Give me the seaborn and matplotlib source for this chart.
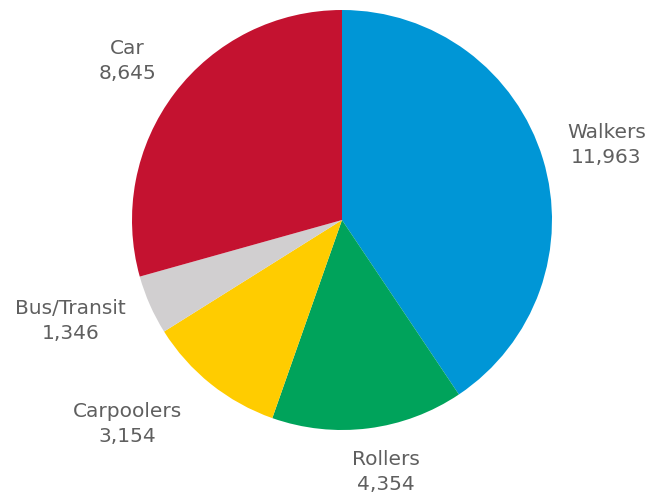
import matplotlib
matplotlib.use("Agg")
import matplotlib.pyplot as plt
import seaborn as sns
import numpy as np

# Commute mode counts
modes = ["Walkers", "Rollers", "Carpoolers", "Bus/Transit", "Car"]
counts = [11963, 4354, 3154, 1346, 8645]
colors = ["#0096D6", "#00A35B", "#FFCC00", "#D1CFD0", "#C41230"]

sns.set_theme(style="white")
plt.rcParams["font.family"] = ["DejaVu Sans"]

W, H = 654, 497
fig = plt.figure(figsize=(W / 100, H / 100), dpi=100)

# Pie occupies a square region centred at (342, 220) px with radius 210 px
cx, cy, r = 342, 220, 210
ax = fig.add_axes([(cx - r) / W, (H - cy - r) / H, 2 * r / W, 2 * r / H])

wedges, _ = ax.pie(counts, colors=sns.color_palette(colors), startangle=90,
                   counterclock=False, radius=1.0,
                   wedgeprops=dict(linewidth=0))
ax.set_xlim(-1, 1)
ax.set_ylim(-1, 1)
ax.set_aspect("equal")
ax.axis("off")

# Label distance (in radii) and angle tweak (deg) for each slice label
label_dist = [1.31, 1.22, 1.41, 1.38, 1.27]
label_shift = [-1.0, 2.7, -7.7, -3.4, 0.7]

for w, name, val, d, s in zip(wedges, modes, counts, label_dist, label_shift):
    ang = np.deg2rad((w.theta1 + w.theta2) / 2 + s)
    x, y = d * np.cos(ang), d * np.sin(ang)
    ax.text(x, y, f"{name}\n{val:,}", ha="center", va="center",
            fontsize=14.5, color="#5f5f5f", linespacing=1.4)

fig.savefig("out.png", dpi=100, facecolor="white")
